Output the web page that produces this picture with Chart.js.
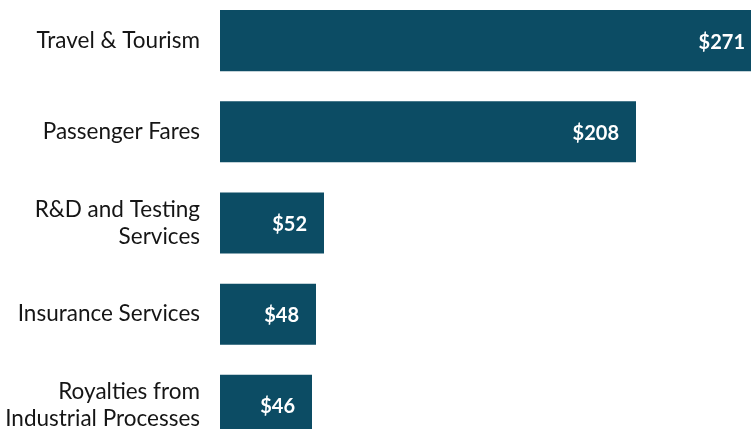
<!DOCTYPE html>
<html>
<head>
<meta charset="utf-8">
<script src="https://cdn.jsdelivr.net/npm/chart.js@4/dist/chart.umd.min.js"></script>
<style>
  html, body { margin: 0; padding: 0; background: #fff; overflow: hidden; width: 751px; height: 429px; }
  #wrap { position: absolute; left: 0; top: -5px; width: 770px; height: 456px; }
</style>
</head>
<body>
<div id="wrap"><canvas id="chart"></canvas></div>
<script>
const categories = [
  'Travel & Tourism',
  'Passenger Fares',
  ['R&D and Testing', 'Services'],
  'Insurance Services',
  ['Royalties from', 'Industrial Processes'],
];
const values = [271, 208, 52, 48, 46];
const barColor = '#0c4c64';
const fontFamily = 'Lato, "Open Sans", sans-serif';

const barLabels = {
  id: 'barLabels',
  afterDatasetsDraw(chart) {
    const ctx = chart.ctx;
    const meta = chart.getDatasetMeta(0);
    ctx.save();
    ctx.font = `bold 20px ${fontFamily}`;
    ctx.fillStyle = '#ffffff';
    ctx.textAlign = 'right';
    ctx.textBaseline = 'middle';
    meta.data.forEach((bar, i) => {
      ctx.fillText(`$${values[i]}`, bar.x - 17, bar.y + 1.5);
    });
    ctx.restore();
  },
};

new Chart(document.getElementById('chart'), {
  type: 'bar',
  data: {
    labels: categories,
    datasets: [{
      data: values,
      backgroundColor: barColor,
      borderWidth: 0,
      categoryPercentage: 1,
      barPercentage: 0.67,
    }],
  },
  options: {
    indexAxis: 'y',
    responsive: true,
    maintainAspectRatio: false,
    animation: false,
    layout: { padding: 0 },
    plugins: {
      legend: { display: false },
      tooltip: { enabled: false },
    },
    scales: {
      x: {
        display: false,
        min: 0,
        max: 275,
      },
      y: {
        grid: { display: false, drawTicks: false },
        border: { display: false },
        ticks: {
          color: '#151515',
          padding: 20,
          font: { family: fontFamily, size: 22.5, lineHeight: 1.2 },
        },
        afterFit(scale) {
          scale.width = 220;
          scale.paddingTop = 0;
          scale.paddingBottom = 0;
        },
      },
    },
  },
  plugins: [barLabels],
});
</script>
</body>
</html>
